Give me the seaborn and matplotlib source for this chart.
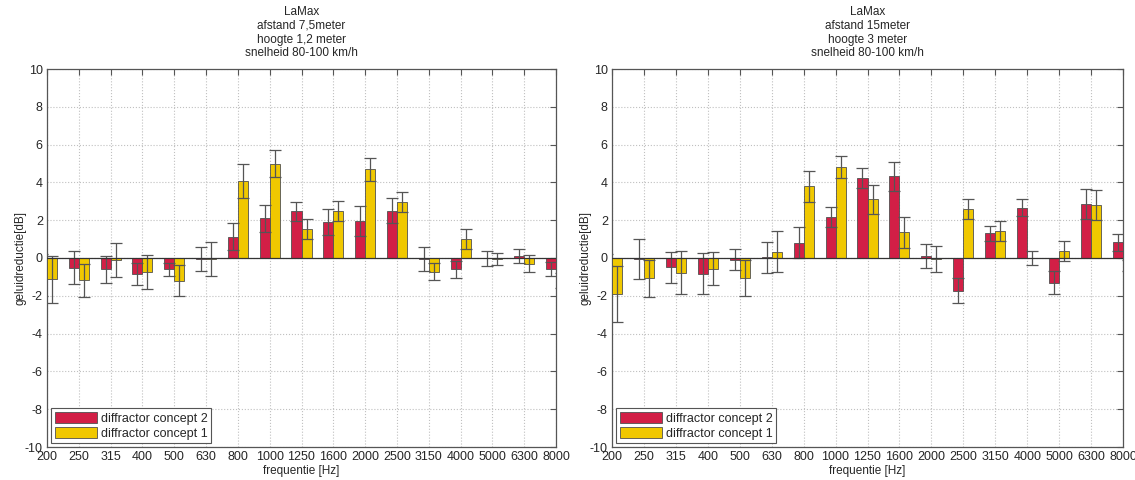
import numpy as np
import pandas as pd
import matplotlib
matplotlib.use("Agg")
import matplotlib.pyplot as plt
import seaborn as sns
from matplotlib.patches import Patch

freqs = ["200", "250", "315", "400", "500", "630", "800", "1000", "1250",
         "1600", "2000", "2500", "3150", "4000", "5000", "6300", "8000"]
series = ["diffractor concept 2", "diffractor concept 1"]

# Left chart: afstand 7,5 m
left_c2 = [-0.9, -0.51, -0.60, -0.85, -0.60, -0.07, 1.12, 2.09, 2.48,
           1.91, 1.96, 2.51, -0.07, -0.60, -0.02, 0.12, -0.58]
left_c2_sd = [1.1, 0.88, 0.71, 0.56, 0.36, 0.64, 0.72, 0.71, 0.50,
              0.67, 0.78, 0.65, 0.64, 0.45, 0.40, 0.37, 0.37]
left_c1 = [-1.13, -1.19, -0.12, -0.74, -1.20, -0.03, 4.10, 5.00, 1.54,
           2.50, 4.69, 2.96, -0.74, 0.99, -0.05, -0.30, -1.2]
left_c1_sd = [1.25, 0.85, 0.90, 0.88, 0.82, 0.90, 0.90, 0.70, 0.54,
              0.52, 0.60, 0.52, 0.45, 0.53, 0.33, 0.46, 0.4]

# Right chart: afstand 15 m
right_c2 = [-0.1, -0.03, -0.50, -0.83, -0.08, 0.03, 0.80, 2.16, 4.25,
            4.32, 0.12, -1.72, 1.31, 2.67, -1.31, 2.85, 0.83]
right_c2_sd = [0.3, 1.06, 0.81, 1.08, 0.57, 0.83, 0.82, 0.54, 0.53,
               0.76, 0.63, 0.65, 0.39, 0.44, 0.62, 0.79, 0.46]
right_c1 = [-1.91, -1.06, -0.78, -0.57, -1.06, 0.34, 3.79, 4.81, 3.10,
            1.35, -0.05, 2.58, 1.43, -0.01, 0.39, 2.81, -0.4]
right_c1_sd = [1.50, 0.98, 1.15, 0.87, 0.96, 1.09, 0.83, 0.58, 0.78,
               0.82, 0.70, 0.52, 0.51, 0.38, 0.53, 0.79, 0.3]

titles = ["LaMax\nafstand 7,5meter\nhoogte 1,2 meter\nsnelheid 80-100 km/h",
          "LaMax\nafstand 15meter\nhoogte 3 meter\nsnelheid 80-100 km/h"]

colors = ["#D21F46", "#F0C800"]

sns.set_style("white")
plt.rcParams['font.family'] = ['Liberation Sans', 'DejaVu Sans']
plt.rcParams['axes.unicode_minus'] = False

fig = plt.figure(figsize=(11.35, 4.8), dpi=100)
axes = [fig.add_axes([47/1135, 33/480, 509/1135, 378/480]),
        fig.add_axes([612/1135, 33/480, 511/1135, 378/480])]

datasets = [(left_c2, left_c2_sd, left_c1, left_c1_sd),
            (right_c2, right_c2_sd, right_c1, right_c1_sd)]

for ax, (c2, c2sd, c1, c1sd), title in zip(axes, datasets, titles):
    df = pd.DataFrame({
        "freq": freqs * 2,
        "series": [series[0]] * len(freqs) + [series[1]] * len(freqs),
        "value": list(c2) + list(c1),
    })
    sds = [list(c2sd), list(c1sd)]
    vals = [list(c2), list(c1)]
    sns.barplot(data=df, x="freq", y="value", hue="series", order=freqs,
                hue_order=series, palette=colors, width=0.63, errorbar=None,
                edgecolor="#505050", linewidth=0.6, saturation=1,
                legend=False, ax=ax, zorder=3)
    for k, cont in enumerate(ax.containers[:2]):
        xs = [b.get_x() + b.get_width() / 2 for b in cont]
        ax.errorbar(xs, vals[k], yerr=sds[k], fmt="none", ecolor="#555555",
                    elinewidth=0.9, capsize=4.5, capthick=0.9, zorder=4)
    ax.axhline(0, color="#333333", lw=0.9, zorder=5)
    ax.set_xlim(0, len(freqs) - 1)
    ax.set_ylim(-10, 10)
    ax.set_yticks(np.arange(-10, 11, 2))
    ax.set_xticks(range(len(freqs)))
    ax.set_xticklabels(freqs)
    ax.grid(True, linestyle=":", color="#c0c0c0", linewidth=0.8, zorder=0)
    ax.set_axisbelow(True)
    for s in ax.spines.values():
        s.set_visible(True)
        s.set_color("#555555")
        s.set_linewidth(0.9)
    ax.tick_params(direction="in", top=True, right=True, length=4,
                   labelsize=9, pad=3, color="#555555")
    ax.set_xlabel("frequentie [Hz]", fontsize=8.5, labelpad=1)
    ax.set_ylabel("geluidreductie[dB]", fontsize=8.5, labelpad=-1)
    ax.set_title(title, fontsize=8.5, linespacing=1.2, pad=9)
    handles = [Patch(facecolor=colors[0], edgecolor="#505050", lw=0.6),
               Patch(facecolor=colors[1], edgecolor="#505050", lw=0.6)]
    leg = ax.legend(handles, series, loc="lower left", fontsize=9,
                    fancybox=False, edgecolor="#555555", framealpha=1,
                    handlelength=3.4, handleheight=1.0, handletextpad=0.3,
                    borderaxespad=0.3, borderpad=0.3, labelspacing=0.15)
    leg.get_frame().set_linewidth(0.8)
    leg.set_zorder(10)

fig.savefig("out.png", dpi=100)
